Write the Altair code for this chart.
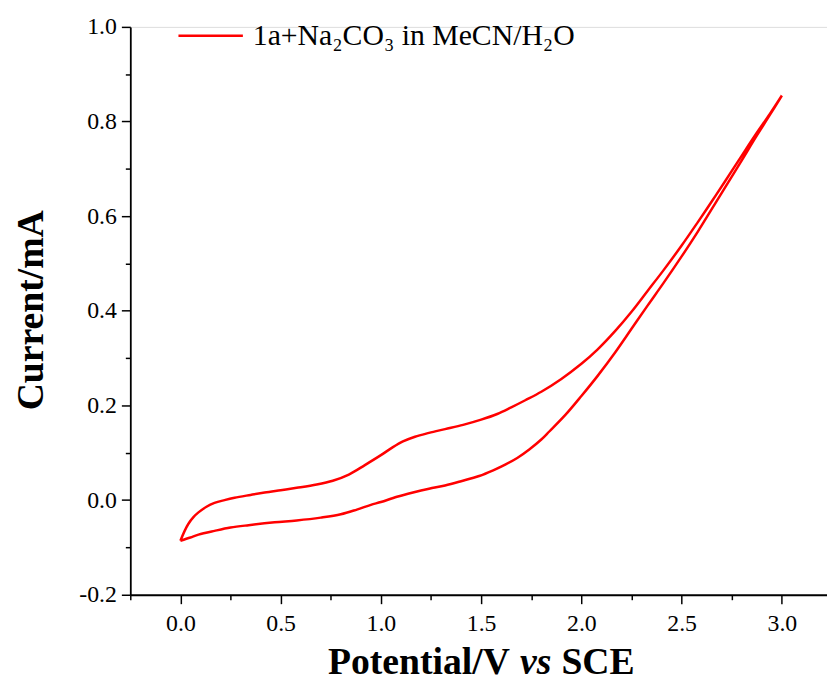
import altair as alt
import pandas as pd

# Forward (upper) branch, 0 V -> 3 V
up_x = [0.0, 0.02, 0.04, 0.065, 0.09, 0.13, 0.17, 0.22, 0.27, 0.35, 0.42, 0.50, 0.58, 0.68, 0.76,
        0.84, 0.92, 1.00, 1.06, 1.11, 1.17, 1.24, 1.32, 1.41, 1.50, 1.58, 1.65, 1.72, 1.80, 1.90,
        2.00, 2.08, 2.17, 2.25, 2.33, 2.41, 2.50, 2.58, 2.65, 2.72, 2.80, 2.87, 2.94, 3.00]
up_y = [-0.086, -0.066, -0.050, -0.036, -0.026, -0.014, -0.006, 0.000, 0.005, 0.011, 0.016, 0.021,
        0.026, 0.033, 0.041, 0.054, 0.074, 0.095, 0.112, 0.124, 0.134, 0.142, 0.150, 0.159, 0.170,
        0.182, 0.196, 0.211, 0.229, 0.256, 0.288, 0.318, 0.358, 0.398, 0.442, 0.486, 0.538, 0.587,
        0.631, 0.676, 0.728, 0.773, 0.816, 0.855]

# Reverse (lower) branch, listed 3 V -> 0 V
down_x = [3.00, 2.94, 2.87, 2.80, 2.72, 2.65, 2.58, 2.50, 2.41, 2.33, 2.25, 2.17, 2.08, 2.00, 1.92,
          1.84, 1.80, 1.74, 1.68, 1.62, 1.56, 1.49, 1.40, 1.32, 1.24, 1.16, 1.08, 1.00, 0.95, 0.88,
          0.80, 0.70, 0.58, 0.47, 0.34, 0.25, 0.17, 0.09, 0.05, 0.0]
down_y = [0.855, 0.814, 0.767, 0.718, 0.663, 0.615, 0.567, 0.515, 0.459, 0.411, 0.362, 0.313, 0.262,
          0.220, 0.180, 0.145, 0.128, 0.107, 0.089, 0.075, 0.063, 0.051, 0.040, 0.031, 0.024, 0.016,
          0.007, -0.004, -0.010, -0.020, -0.030, -0.037, -0.043, -0.047, -0.053, -0.058, -0.065,
          -0.073, -0.079, -0.086]

series_name = "1a+Na\u2082CO\u2083 in MeCN/H\u2082O"
x_title_parts = ["Potential/V", "vs", "SCE"]
y_title = "Current/mA"

x_ticks = [-0.25, 0.0, 0.25, 0.5, 0.75, 1.0, 1.25, 1.5, 1.75, 2.0, 2.25, 2.5, 2.75, 3.0]
y_ticks = [-0.2, -0.1, 0.0, 0.1, 0.2, 0.3, 0.4, 0.5, 0.6, 0.7, 0.8, 0.9, 1.0]

xs = up_x + down_x
ys = up_y + down_y
df = pd.DataFrame({"E": xs, "I": ys, "idx": list(range(len(xs)))})

W, H = 703, 573
FONT = "Liberation Serif"
RED = "#ff0000"
TITLE_SIZE = 38

x_major = "abs(datum.value*2 - round(datum.value*2)) < 0.0001"
y_major = "abs(datum.value*5 - round(datum.value*5)) < 0.0001"

x_axis = alt.Axis(
    values=x_ticks,
    labelExpr=f"{x_major} ? replace(format(datum.value, '.1f'), '\u2212', '-') : ''",
    tickSize={"condition": {"test": x_major, "value": 9}, "value": 5},
    grid=False, title=None, labelFont=FONT, labelFontSize=24, labelColor="black",
    tickColor="black", tickWidth=1.5, domainColor="black", domainWidth=1.8,
    labelPadding=8, labelFlush=False, labelOverlap=False,
)
y_axis = alt.Axis(
    values=y_ticks,
    labelExpr=f"{y_major} ? replace(format(datum.value, '.1f'), '\u2212', '-') : ''",
    tickSize={"condition": {"test": y_major, "value": 9}, "value": 5},
    grid=False, title=None, labelFont=FONT, labelFontSize=24, labelColor="black",
    tickColor="black", tickWidth=1.5, domainColor="black", domainWidth=1.8,
    labelPadding=5, labelFlush=False, labelOverlap=False,
)

x_scale = alt.Scale(domain=[-0.25, 3.225], nice=False, zero=False)
y_scale = alt.Scale(domain=[-0.2, 1.0], nice=False, zero=False)

line = alt.Chart(df).mark_line(color=RED, strokeWidth=2.5, interpolate="catmull-rom").encode(
    x=alt.X("E:Q", scale=x_scale, axis=x_axis),
    y=alt.Y("I:Q", scale=y_scale, axis=y_axis),
    order="idx:Q",
)

one = pd.DataFrame({"t": [0]})

legend_line = alt.Chart(one).mark_rule(color=RED, strokeWidth=2.5).encode(
    x=alt.value(48.6), x2=alt.value(113.6), y=alt.value(9)
)
legend_text = alt.Chart(pd.DataFrame({"t": [series_name]})).mark_text(
    font=FONT, fontSize=30, align="left", baseline="alphabetic", color="black"
).encode(x=alt.value(123.6), y=alt.value(18.5), text="t:N")

TY = H + 80
xt1 = alt.Chart(pd.DataFrame({"t": [x_title_parts[0]]})).mark_text(
    font=FONT, fontSize=TITLE_SIZE, fontWeight="bold", align="right", baseline="alphabetic", color="black"
).encode(x=alt.value(383), y=alt.value(TY), text="t:N")
xt2 = alt.Chart(pd.DataFrame({"t": [x_title_parts[1]]})).mark_text(
    font=FONT, fontSize=TITLE_SIZE, fontWeight="bold", fontStyle="italic", align="center",
    baseline="alphabetic", color="black"
).encode(x=alt.value(409), y=alt.value(TY), text="t:N")
xt3 = alt.Chart(pd.DataFrame({"t": [x_title_parts[2]]})).mark_text(
    font=FONT, fontSize=TITLE_SIZE, fontWeight="bold", align="left", baseline="alphabetic", color="black"
).encode(x=alt.value(435), y=alt.value(TY), text="t:N")
yt = alt.Chart(pd.DataFrame({"t": [y_title]})).mark_text(
    font=FONT, fontSize=TITLE_SIZE, fontWeight="bold", align="center", baseline="middle",
    angle=270, color="black"
).encode(x=alt.value(-99), y=alt.value(286), text="t:N")

chart = alt.layer(line, legend_line, legend_text, xt1, xt2, xt3, yt).properties(
    width=W, height=H,
    autosize=alt.AutoSizeParams(type="none"),
    padding={"left": 123.4, "top": 16, "right": 0, "bottom": 88},
).configure_view(stroke=None).configure(background="white")

chart.save("out.html", embed_options={"renderer": "svg", "actions": False})
